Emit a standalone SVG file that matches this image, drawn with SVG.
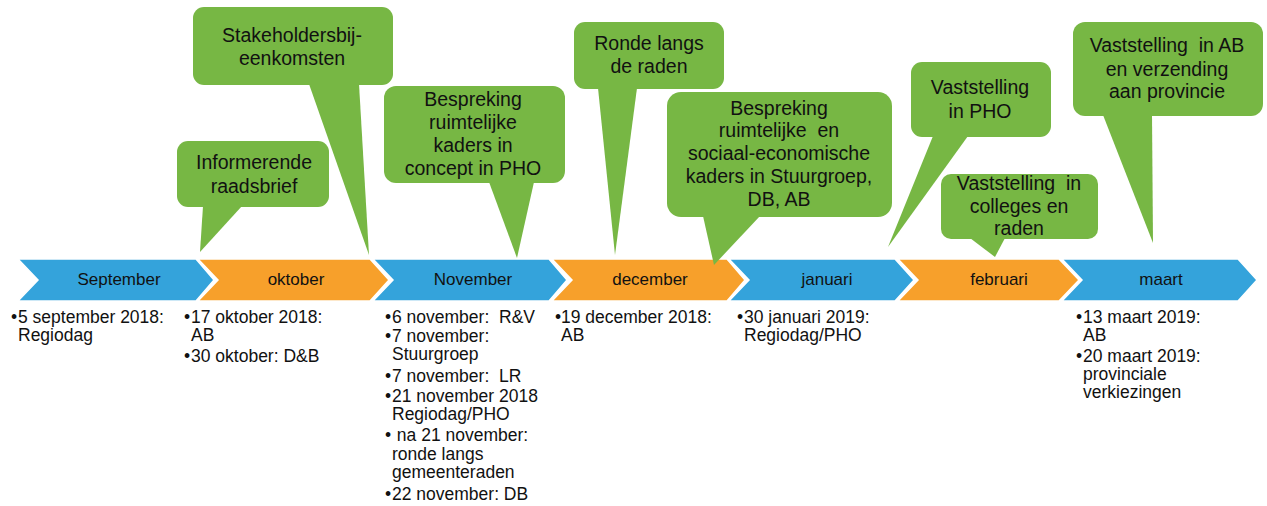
<svg xmlns="http://www.w3.org/2000/svg" width="1267" height="506" viewBox="0 0 1267 506">
<style>
text{font-family:"Liberation Sans",Arial,sans-serif;fill:#111;white-space:pre}
.blue{fill:#34A3DB;stroke:#fff;stroke-width:1.5}
.orange{fill:#F7A02B;stroke:#fff;stroke-width:1.5}
.month{font-size:17px;text-anchor:middle}
.bub{fill:#77B744}
.bt{font-size:19.5px;text-anchor:middle}
.li{font-size:17.5px}
</style>
<rect width="1267" height="506" fill="#fff"/>
<g id="timeline">
<g id="m-sep"><polygon class="blue" points="18,259 196,259 214,280 196,301 18,301 38,280"/><text class="month" x="119" y="285">September</text></g>
<g id="m-okt"><polygon class="orange" points="198,259 370,259 389,280 370,301 198,301 218,280"/><text class="month" x="296" y="285">oktober</text></g>
<g id="m-nov"><polygon class="blue" points="373,259 549,259 567,280 549,301 373,301 393,280"/><text class="month" x="473" y="285">November</text></g>
<g id="m-dec"><polygon class="orange" points="552,259 727,259 745,280 727,301 552,301 572,280"/><text class="month" x="650" y="285">december</text></g>
<g id="m-jan"><polygon class="blue" points="729,259 895,259 914,280 895,301 729,301 749,280"/><text class="month" x="827" y="285">januari</text></g>
<g id="m-feb"><polygon class="orange" points="898,259 1059,259 1079,280 1059,301 898,301 918,280"/><text class="month" x="999" y="285">februari</text></g>
<g id="m-maa"><polygon class="blue" points="1062,259 1238,259 1257,280 1238,301 1062,301 1082,280"/><text class="month" x="1161" y="285">maart</text></g>
</g>
<g id="callouts">
<g id="c-stake"><rect class="bub" x="193" y="7" width="200" height="78" rx="11"/><polygon class="bub" points="309,84 359,84 369,255"/><text class="bt" x="292" y="42">Stakeholdersbij-</text><text class="bt" x="292" y="65">eenkomsten</text></g>
<g id="c-info"><rect class="bub" x="177" y="141" width="152" height="66" rx="11"/><polygon class="bub" points="203,206 242,206 200,252"/><text class="bt" x="254" y="169">Informerende</text><text class="bt" x="254" y="193">raadsbrief</text></g>
<g id="c-besp1"><rect class="bub" x="384" y="86" width="181" height="97" rx="12"/><polygon class="bub" points="489,182 534,182 517,258"/><text class="bt" x="473" y="106">Bespreking</text><text class="bt" x="473" y="129">ruimtelijke</text><text class="bt" x="473" y="152">kaders in</text><text class="bt" x="473" y="175">concept in PHO</text></g>
<g id="c-ronde"><rect class="bub" x="574" y="22" width="150" height="67" rx="11"/><polygon class="bub" points="598,88 637,88 615,255"/><text class="bt" x="649" y="50">Ronde langs</text><text class="bt" x="649" y="73">de raden</text></g>
<g id="c-besp2"><rect class="bub" x="667" y="92" width="225" height="125" rx="14"/><polygon class="bub" points="703,216 760,216 714,265"/><text class="bt" x="779" y="115">Bespreking</text><text class="bt" x="779" y="137">ruimtelijke  en</text><text class="bt" x="779" y="160">sociaal-economische</text><text class="bt" x="779" y="183">kaders in Stuurgroep,</text><text class="bt" x="779" y="206">DB, AB</text></g>
<g id="c-vpho"><rect class="bub" x="911" y="62" width="140" height="75" rx="11"/><polygon class="bub" points="933,136 968,136 888,247"/><text class="bt" x="980" y="94">Vaststelling</text><text class="bt" x="980" y="118">in PHO</text></g>
<g id="c-vcol"><rect class="bub" x="941" y="174" width="157" height="65" rx="10"/><polygon class="bub" points="970,238 1005,238 995,257"/><text class="bt" x="1019" y="190">Vaststelling  in</text><text class="bt" x="1019" y="213">colleges en</text><text class="bt" x="1019" y="235">raden</text></g>
<g id="c-vab"><rect class="bub" x="1073" y="22" width="190" height="94" rx="12"/><polygon class="bub" points="1103,115 1152,115 1153,243"/><text class="bt" x="1167" y="52">Vaststelling  in AB</text><text class="bt" x="1167" y="76">en verzending</text><text class="bt" x="1167" y="98">aan provincie</text></g>
</g>
<g id="lists" class="li">
<g id="l-sep"><text class="li" x="11" y="323">•</text><text class="li" x="18" y="323">5 september 2018:</text><text class="li" x="18" y="341">Regiodag</text></g>
<g id="l-okt"><text class="li" x="184" y="323">•</text><text class="li" x="191" y="323">17 oktober 2018:</text><text class="li" x="191" y="341">AB</text><text class="li" x="184" y="362">•</text><text class="li" x="191" y="362">30 oktober: D&amp;B</text></g>
<g id="l-nov">
<text class="li" x="385" y="323">•</text><text class="li" x="392" y="323">6 november:  R&amp;V</text>
<text class="li" x="385" y="342">•</text><text class="li" x="392" y="342">7 november:</text><text class="li" x="392" y="360">Stuurgroep</text>
<text class="li" x="385" y="382">•</text><text class="li" x="392" y="382">7 november:  LR</text>
<text class="li" x="385" y="402">•</text><text class="li" x="392" y="402">21 november 2018</text><text class="li" x="392" y="420">Regiodag/PHO</text>
<text class="li" x="385" y="441">•</text><text class="li" x="392" y="441"> na 21 november:</text><text class="li" x="392" y="460">ronde langs</text><text class="li" x="392" y="478">gemeenteraden</text>
<text class="li" x="385" y="500">•</text><text class="li" x="392" y="500">22 november: DB</text>
</g>
<g id="l-dec"><text class="li" x="555" y="323">•</text><text class="li" x="561" y="323">19 december 2018:</text><text class="li" x="561" y="341">AB</text></g>
<g id="l-jan"><text class="li" x="737" y="323">•</text><text class="li" x="744" y="323">30 januari 2019:</text><text class="li" x="744" y="341">Regiodag/PHO</text></g>
<g id="l-maa"><text class="li" x="1076" y="323">•</text><text class="li" x="1083" y="323">13 maart 2019:</text><text class="li" x="1083" y="341">AB</text><text class="li" x="1076" y="362">•</text><text class="li" x="1083" y="362">20 maart 2019:</text><text class="li" x="1083" y="380">provinciale</text><text class="li" x="1083" y="398">verkiezingen</text></g>
</g>
</svg>
